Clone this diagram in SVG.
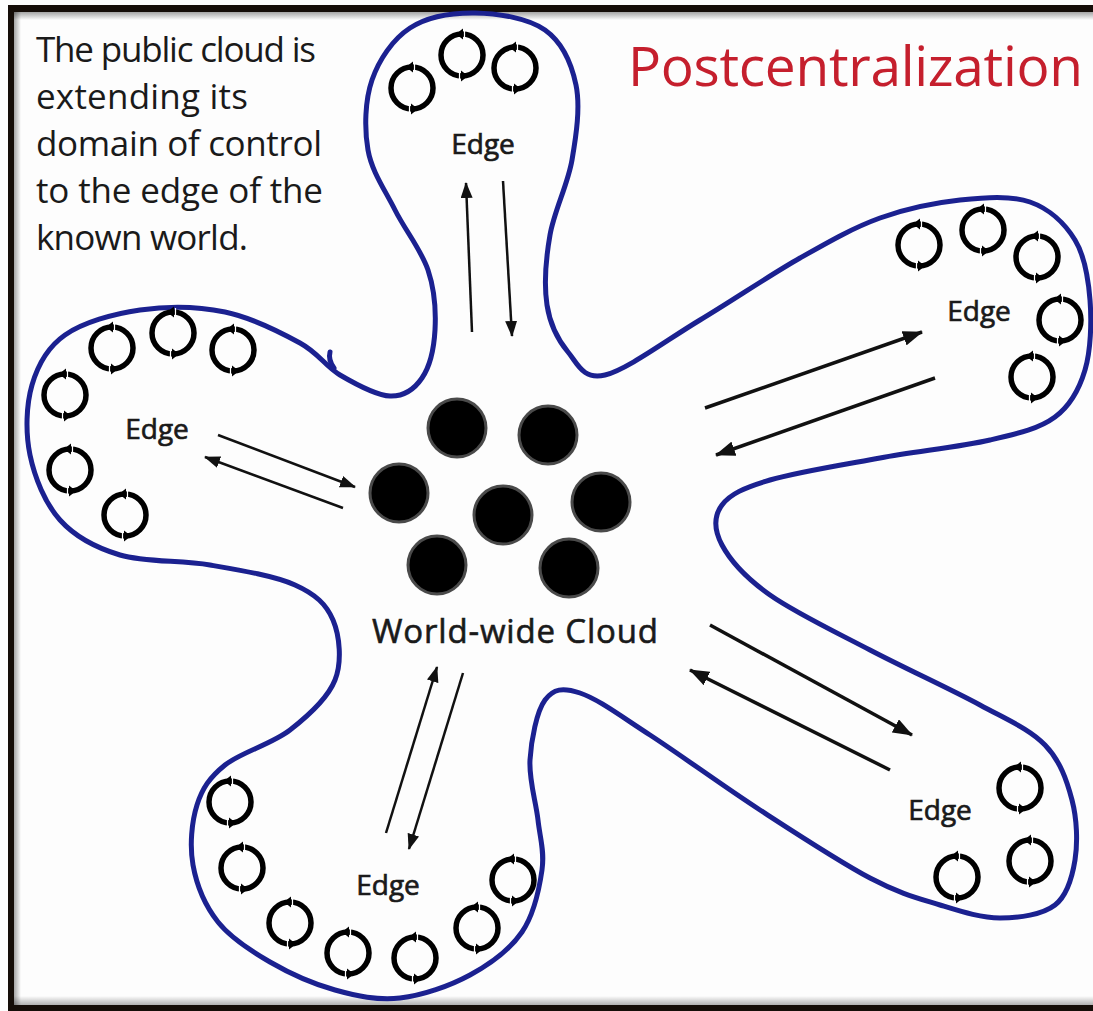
<svg xmlns="http://www.w3.org/2000/svg" xmlns:xlink="http://www.w3.org/1999/xlink" width="1093" height="1011" viewBox="0 0 1093 1011">
  <defs>
    <style>
      .body { font-family: "Open Sans", "Noto Sans", "Liberation Sans", sans-serif; font-size: 35px; fill: #1a1a1a; }
      .title { font-family: "Open Sans", "Noto Sans", "Liberation Sans", sans-serif; font-size: 55px; fill: #c51f2d; }
      .edge { font-family: "Open Sans", "Noto Sans", "Liberation Sans", sans-serif; font-size: 28px; fill: #1a1a1a; stroke: #1a1a1a; stroke-width: 0.7; text-anchor: middle; }
      .cloud { font-family: "Open Sans", "Noto Sans", "Liberation Sans", sans-serif; font-size: 33px; fill: #1a1a1a; stroke: #1a1a1a; stroke-width: 0.6; }
      .outline { fill: none; stroke: #1b2190; stroke-width: 5; stroke-linejoin: round; stroke-linecap: round; }
      .thin { stroke: #111; stroke-width: 2.5; fill: none; marker-end: url(#headS); }
      .thick { stroke: #111; stroke-width: 3.5; fill: none; marker-end: url(#headL); }
      .server { fill: #000; stroke: #4a4a4a; stroke-width: 3; }
    </style>
    <marker id="headS" markerUnits="userSpaceOnUse" markerWidth="16" markerHeight="12" viewBox="0 0 16 12" refX="15" refY="6" orient="auto">
      <path d="M0,0 L16,6 L0,12 Z" fill="#111"/>
    </marker>
    <marker id="headL" markerUnits="userSpaceOnUse" markerWidth="20" markerHeight="15" viewBox="0 0 20 15" refX="19" refY="7.5" orient="auto">
      <path d="M0,0 L20,7.5 L0,15 Z" fill="#111"/>
    </marker>
    <!-- circular "sync" icon: ring with two small arrow tips -->
    <symbol id="cyc" viewBox="-30 -30 60 60" width="60" height="60" overflow="visible">
      <circle r="21" fill="none" stroke="#000" stroke-width="5.5"/>
      <path d="M-6,-21 L1,-26.5 L1,-15.5 Z" fill="#000"/>
      <path d="M6,21 L-1,15.5 L-1,26.5 Z" fill="#000"/>
      <path d="M2.5,-25 L2.5,-17 M-2.5,17 L-2.5,25" stroke="#fff" stroke-width="1.2"/>
    </symbol>
    <linearGradient id="shTop" x1="0" y1="0" x2="0" y2="1">
      <stop offset="0" stop-color="#000" stop-opacity="0.35"/>
      <stop offset="1" stop-color="#000" stop-opacity="0"/>
    </linearGradient>
    <linearGradient id="shLeft" x1="0" y1="0" x2="1" y2="0">
      <stop offset="0" stop-color="#000" stop-opacity="0.35"/>
      <stop offset="1" stop-color="#000" stop-opacity="0"/>
    </linearGradient>
    <linearGradient id="shBot" x1="0" y1="1" x2="0" y2="0">
      <stop offset="0" stop-color="#000" stop-opacity="0.3"/>
      <stop offset="1" stop-color="#000" stop-opacity="0"/>
    </linearGradient>
  </defs>

  <!-- page and frame -->
  <rect x="0" y="0" width="1093" height="1011" fill="#fdfdfd"/>
  <rect x="14" y="12" width="1079" height="8" fill="url(#shTop)"/>
  <rect x="14" y="12" width="7" height="993" fill="url(#shLeft)"/>
  <rect x="14" y="996" width="1079" height="9" fill="url(#shBot)"/>
  <path d="M8,5 H1093 V12 H14 V1005 H1093 V1011 H8 Z" fill="#150d08"/>

  <!-- cloud outline with five edge lobes -->
  <g id="outline">
    <path class="outline" d="M475,13 C497.5,13.3 528.2,18 545,30 C561.8,42 571.5,63.3 576,85 C580.5,106.7 576.3,135 572,160 C567.7,185 554.2,210.8 550,235 C545.8,259.2 544,285.5 547,305 C550,324.5 558.3,340.3 568,352 C577.7,363.7 583,380.3 605,375 C627,369.7 667.5,339.5 700,320 C732.5,300.5 770,275 800,258 C830,241 853.3,227.7 880,218 C906.7,208.3 935,202.7 960,200 C985,197.3 1010.8,195.3 1030,202 C1049.2,208.7 1065,223.7 1075,240 C1085,256.3 1088.3,278.3 1090,300 C1091.7,321.7 1090.8,350.5 1085,370 C1079.2,389.5 1070.8,405.3 1055,417 C1039.2,428.7 1019.2,433.2 990,440 C960.8,446.8 916.7,451.3 880,458 C843.3,464.7 796.3,472.2 770,480 C743.7,487.8 730,494.2 722,505 C714,515.8 714,530 722,545 C730,560 745.3,577.5 770,595 C794.7,612.5 835,631.7 870,650 C905,668.3 950.8,689.2 980,705 C1009.2,720.8 1029.7,729.2 1045,745 C1060.3,760.8 1067,780.8 1072,800 C1077,819.2 1077.8,842.5 1075,860 C1072.2,877.5 1067.5,895.3 1055,905 C1042.5,914.7 1019.2,918 1000,918 C980.8,918 961.7,911.7 940,905 C918.3,898.3 900,893.8 870,878 C840,862.2 796.7,833.8 760,810 C723.3,786.2 680,754.5 650,735 C620,715.5 597.5,698.8 580,693 C562.5,687.2 553.3,688.8 545,700 C536.7,711.2 531.2,740 530,760 C528.8,780 536,801.7 538,820 C540,838.3 544.7,851.3 542,870 C539.3,888.7 534,914.5 522,932 C510,949.5 490.3,964 470,975 C449.7,986 422.5,995.5 400,998 C377.5,1000.5 356.7,996 335,990 C313.3,984 289.5,973.3 270,962 C250.5,950.7 230.8,938.2 218,922 C205.2,905.8 196.5,884.5 193,865 C189.5,845.5 191.7,821.7 197,805 C202.3,788.3 209.5,777.5 225,765 C240.5,752.5 271.7,744.2 290,730 C308.3,715.8 327.8,698.3 335,680 C342.2,661.7 339.7,635.8 333,620 C326.3,604.2 315.5,594.2 295,585 C274.5,575.8 239.2,570 210,565 C180.8,560 145,562.5 120,555 C95,547.5 75,536.7 60,520 C45,503.3 34.7,477.5 30,455 C25.3,432.5 26.2,405 32,385 C37.8,365 47,347.5 65,335 C83,322.5 113.3,313.8 140,310 C166.7,306.2 198.3,306.5 225,312 C251.7,317.5 280.8,332.5 300,343 C319.2,353.5 325,366.2 340,375 C355,383.8 376.3,395.5 390,396 C403.7,396.5 414.5,389 422,378 C429.5,367 434,348 435,330 C436,312 434.7,290 428,270 C421.3,250 405,230 395,210 C385,190 371.8,171.7 368,150 C364.2,128.3 365,100.3 372,80 C379,59.7 392.8,39.2 410,28 C427.2,16.8 452.5,12.7 475,13 Z"/>
    <path class="outline" d="M330,352 Q328,360 334,368" stroke-width="4.5"/>
  </g>

  <!-- caption and title -->
  <g id="caption">
    <text class="body" x="36" y="62" textLength="280">The public cloud is</text>
    <text class="body" x="36" y="109" textLength="212">extending its</text>
    <text class="body" x="36" y="156" textLength="286">domain of control</text>
    <text class="body" x="36" y="203" textLength="287">to the edge of the</text>
    <text class="body" x="36" y="250" textLength="212">known world.</text>
  </g>
  <g id="title">
    <text class="title" x="628" y="86" textLength="455">Postcentralization</text>
  </g>

  <!-- central cloud: server cluster -->
  <g id="world-wide-cloud">
    <circle class="server" cx="457" cy="428" r="29"/>
    <circle class="server" cx="548" cy="435" r="29"/>
    <circle class="server" cx="399" cy="493" r="29"/>
    <circle class="server" cx="503" cy="515" r="29"/>
    <circle class="server" cx="601" cy="502" r="29"/>
    <circle class="server" cx="437" cy="565" r="29"/>
    <circle class="server" cx="569" cy="568" r="29"/>
    <text class="cloud" x="372" y="643" textLength="286">World-wide Cloud</text>
  </g>

  <!-- edge lobes -->
  <g id="edge-top">
    <use href="#cyc" x="382" y="58"/>
    <use href="#cyc" x="432" y="25"/>
    <use href="#cyc" x="485" y="38"/>
    <text class="edge" x="483" y="154">Edge</text>
  </g>
  <g id="edge-right">
    <use href="#cyc" x="889" y="215"/>
    <use href="#cyc" x="953" y="200"/>
    <use href="#cyc" x="1007" y="227"/>
    <use href="#cyc" x="1030" y="290"/>
    <use href="#cyc" x="1002" y="347"/>
    <text class="edge" x="979" y="321">Edge</text>
  </g>
  <g id="edge-left">
    <use href="#cyc" x="82" y="318"/>
    <use href="#cyc" x="143" y="303"/>
    <use href="#cyc" x="203" y="320"/>
    <use href="#cyc" x="35" y="365"/>
    <use href="#cyc" x="40" y="440"/>
    <use href="#cyc" x="95" y="485"/>
    <text class="edge" x="157" y="439">Edge</text>
  </g>
  <g id="edge-bottom-right">
    <use href="#cyc" x="990" y="758"/>
    <use href="#cyc" x="1000" y="831"/>
    <use href="#cyc" x="927" y="847"/>
    <text class="edge" x="940" y="820">Edge</text>
  </g>
  <g id="edge-bottom">
    <use href="#cyc" x="200" y="772"/>
    <use href="#cyc" x="212" y="838"/>
    <use href="#cyc" x="260" y="893"/>
    <use href="#cyc" x="318" y="923"/>
    <use href="#cyc" x="385" y="928"/>
    <use href="#cyc" x="447" y="898"/>
    <use href="#cyc" x="483" y="850"/>
    <text class="edge" x="388" y="895">Edge</text>
  </g>

  <!-- connectors between the cloud and each edge -->
  <g id="connectors">
    <line class="thin" x1="472" y1="332" x2="466" y2="183"/>
    <line class="thin" x1="503" y1="181" x2="512" y2="336"/>
    <line class="thick" x1="705" y1="408" x2="922" y2="332"/>
    <line class="thick" x1="935" y1="378" x2="716" y2="455"/>
    <line class="thin" x1="218" y1="435" x2="355" y2="487"/>
    <line class="thin" x1="343" y1="508" x2="205" y2="457"/>
    <line class="thick" x1="710" y1="625" x2="912" y2="735"/>
    <line class="thick" x1="890" y1="770" x2="690" y2="670"/>
    <line class="thin" x1="386" y1="833" x2="437" y2="667"/>
    <line class="thin" x1="463" y1="673" x2="409" y2="849"/>
  </g>
</svg>
